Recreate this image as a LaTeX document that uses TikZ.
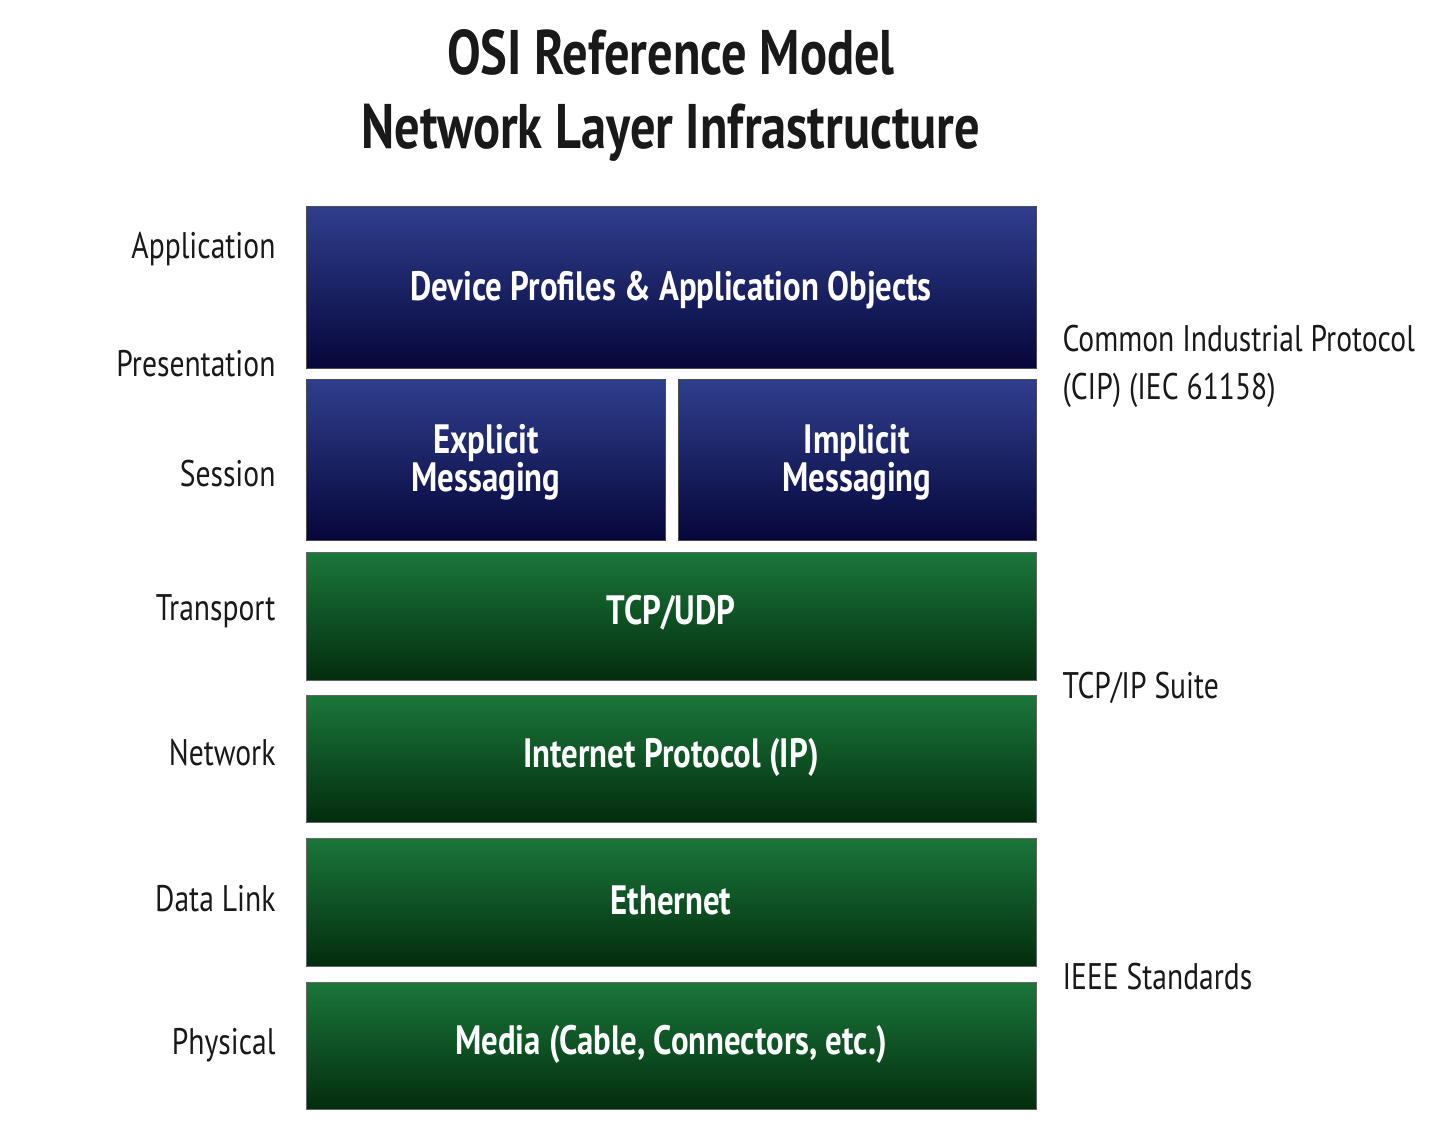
\documentclass[tikz,border=0pt]{standalone}
\usepackage{fontspec}
\setmainfont{PT Sans}[FakeStretch=0.8]
\begin{document}
\begin{tikzpicture}[x=1pt,y=-1pt,
  bluebox/.style={draw=black!70,line width=0.8pt,top color=blueTop,bottom color=blueBot},
  greenbox/.style={draw=black!60,line width=0.8pt,top color=greenTop,bottom color=greenBot},
  boxlabel/.style={text=white,font=\fontsize{41}{38}\selectfont\bfseries,align=center},
  sidelabel/.style={anchor=east,font=\fontsize{37}{37}\selectfont,text=black!90},
  rightlabel/.style={anchor=west,font=\fontsize{37}{48}\selectfont,text=black!90,align=left},
  titlestyle/.style={font=\fontsize{63}{74}\selectfont\bfseries,text=black!90,align=center}]
\definecolor{blueTop}{HTML}{2F3F8E}
\definecolor{blueBot}{HTML}{06063A}
\definecolor{greenTop}{HTML}{1A773A}
\definecolor{greenBot}{HTML}{032D0E}
\useasboundingbox[fill=white] (0,0) rectangle (1440,1138);
% title
\node[titlestyle] (title) at (671,95) {OSI Reference Model\\Network Layer Infrastructure};
% boxes
\path[bluebox] (306,206) rectangle (1036,368);
\node[boxlabel] (dev) at (671,290) {Device Profiles \& Application Objects};
\path[bluebox] (306,379) rectangle (665,540);
\node[boxlabel] (expl) at (486,462) {Explicit\\Messaging};
\path[bluebox] (678,379) rectangle (1036,540);
\node[boxlabel] (impl) at (857,462) {Implicit\\Messaging};
\path[greenbox] (306,552) rectangle (1036,680);
\node[boxlabel] (tcp) at (671,613) {TCP/UDP};
\path[greenbox] (306,695) rectangle (1036,822);
\node[boxlabel] (ip) at (671,757) {Internet Protocol (IP)};
\path[greenbox] (306,838) rectangle (1036,966);
\node[boxlabel] (eth) at (671,900) {Ethernet};
\path[greenbox] (306,982) rectangle (1036,1109);
\node[boxlabel] (media) at (671,1044) {Media (Cable, Connectors, etc.)};
% side labels
\node[sidelabel] (l1) at (279,249) {Application};
\node[sidelabel] (l2) at (279,364) {Presentation};
\node[sidelabel] (l3) at (279,474) {Session};
\node[sidelabel] (l4) at (279,611) {Transport};
\node[sidelabel] (l5) at (279,753) {Network};
\node[sidelabel] (l6) at (279,899) {Data Link};
\node[sidelabel] (l7) at (279,1045) {Physical};
% right labels
\node[rightlabel] (r1) at (1059,366) {Common Industrial Protocol\\(CIP) (IEC 61158)};
\node[rightlabel] (r2) at (1059,688) {TCP/IP Suite};
\node[rightlabel] (r3) at (1059,977) {IEEE Standards};
\end{tikzpicture}
\end{document}
